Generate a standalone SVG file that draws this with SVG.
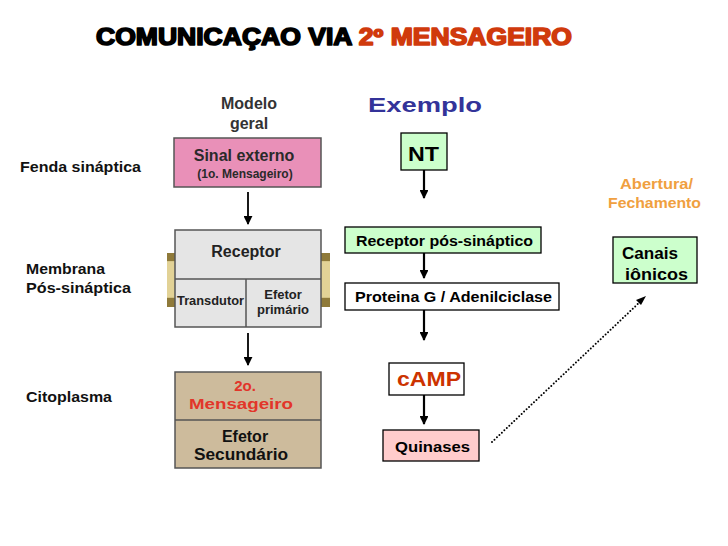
<svg xmlns="http://www.w3.org/2000/svg" width="728" height="546" viewBox="0 0 728 546">
<defs>
<style>
text{font-family:"Liberation Sans",Arial,sans-serif;font-weight:bold;}
.lbl{font-size:15px;fill:#111;}
.pg{stroke:#555;stroke-width:1.5;}
.bx{stroke:#000;stroke-width:1.3;}
.ln{stroke:#000;fill:none;}
</style>
<marker id="ah" viewBox="0 0 10 10" refX="9" refY="5" markerWidth="4" markerHeight="4" orient="auto" markerUnits="strokeWidth">
<path d="M0,0 L10,5 L0,10 z" fill="#000"/>
</marker>
<marker id="ah2" viewBox="0 0 10 10" refX="9" refY="5" markerWidth="5" markerHeight="5" orient="auto" markerUnits="strokeWidth">
<path d="M0,0 L10,5 L0,10 z" fill="#000"/>
</marker>
<linearGradient id="tan" x1="0" y1="0" x2="0" y2="1">
<stop offset="0" stop-color="#8f7a3a"/>
<stop offset="0.14" stop-color="#8f7a3a"/>
<stop offset="0.16" stop-color="#e2d296"/>
<stop offset="0.82" stop-color="#e2d296"/>
<stop offset="0.84" stop-color="#8f7a3a"/>
<stop offset="1" stop-color="#8f7a3a"/>
</linearGradient>
</defs>
<rect width="728" height="546" fill="#fff"/>

<g id="title">
<text x="96" y="45" font-size="23" textLength="476" lengthAdjust="spacingAndGlyphs" stroke-width="1.6" stroke-linejoin="round" style="font-weight:900"><tspan fill="#000" stroke="#000">COMUNICAÇAO VIA </tspan><tspan fill="#d03a0c" stroke="#d03a0c">2º MENSAGEIRO</tspan></text>
</g>

<g id="labels-left">
<text class="lbl" x="20" y="172" textLength="121" lengthAdjust="spacingAndGlyphs">Fenda sináptica</text>
<text class="lbl" x="26" y="274" textLength="79" lengthAdjust="spacingAndGlyphs">Membrana</text>
<text class="lbl" x="26" y="293" textLength="105" lengthAdjust="spacingAndGlyphs">Pós-sináptica</text>
<text class="lbl" x="26" y="402" textLength="86" lengthAdjust="spacingAndGlyphs">Citoplasma</text>
</g>

<g id="modelo-geral">
<text x="249" y="109" font-size="16" fill="#333" text-anchor="middle">Modelo</text>
<text x="249" y="129" font-size="16" fill="#333" text-anchor="middle">geral</text>
</g>

<g id="sinal-externo">
<rect class="pg" x="174" y="138" width="147" height="49" fill="#e990b8"/>
<text x="244" y="161" font-size="16" fill="#2a2a2a" text-anchor="middle">Sinal externo</text>
<text x="245" y="178" font-size="12" fill="#2a2a2a" text-anchor="middle">(1o. Mensageiro)</text>
</g>

<g id="receptor-membrana">
<rect x="167" y="253" width="8" height="54" fill="url(#tan)"/>
<rect x="321" y="253" width="9" height="54" fill="url(#tan)"/>
<rect class="pg" x="175" y="230" width="146" height="97" fill="#e5e5e5"/>
<line class="pg" x1="175" y1="279" x2="321" y2="279"/>
<line class="pg" x1="246" y1="279" x2="246" y2="327"/>
<text x="246" y="257" font-size="16" fill="#222" text-anchor="middle">Receptor</text>
<text x="177" y="305" font-size="13" fill="#222" textLength="67" lengthAdjust="spacingAndGlyphs">Transdutor</text>
<text x="283" y="299" font-size="13" fill="#222" text-anchor="middle">Efetor</text>
<text x="283" y="314" font-size="13" fill="#222" text-anchor="middle">primário</text>
</g>

<g id="segundo-mensageiro">
<rect class="pg" x="175" y="372" width="146" height="96" fill="#cdbb9c"/>
<line class="pg" x1="175" y1="420" x2="321" y2="420"/>
<text x="245" y="391" font-size="15" fill="#e2352a" text-anchor="middle">2o.</text>
<text x="189" y="409" font-size="15" fill="#e2352a" textLength="104" lengthAdjust="spacingAndGlyphs">Mensageiro</text>
<text x="245" y="442" font-size="16" fill="#111" text-anchor="middle">Efetor</text>
<text x="194" y="460" font-size="16" fill="#111" textLength="94" lengthAdjust="spacingAndGlyphs">Secundário</text>
</g>

<g id="exemplo">
<text x="368" y="112" font-size="21" fill="#333399" textLength="114" lengthAdjust="spacingAndGlyphs">Exemplo</text>
</g>

<g id="nt">
<rect class="bx" x="401" y="133" width="46" height="37" fill="#ccffcc"/>
<text x="408" y="161" font-size="21" fill="#000" textLength="31" lengthAdjust="spacingAndGlyphs">NT</text>
</g>

<g id="receptor-pos">
<rect class="bx" x="345" y="227" width="196" height="26" fill="#ccffcc"/>
<text x="356" y="246" font-size="14" fill="#000" textLength="177" lengthAdjust="spacingAndGlyphs">Receptor pós-sináptico</text>
</g>

<g id="proteina-g">
<rect class="bx" x="345" y="283" width="214" height="27" fill="#fff"/>
<text x="355" y="302" font-size="14" fill="#000" textLength="197" lengthAdjust="spacingAndGlyphs">Proteina G / Adenilciclase</text>
</g>

<g id="camp">
<rect class="bx" x="389" y="363" width="75" height="32" fill="#fff"/>
<text x="397" y="386" font-size="20" fill="#cc3300" textLength="64" lengthAdjust="spacingAndGlyphs">cAMP</text>
</g>

<g id="quinases">
<rect class="bx" x="383" y="430" width="96" height="31" fill="#ffcccc"/>
<text x="395" y="452" font-size="15" fill="#000" textLength="75" lengthAdjust="spacingAndGlyphs">Quinases</text>
</g>

<g id="abertura">
<text x="620" y="189" font-size="14" fill="#f0a040" textLength="73" lengthAdjust="spacingAndGlyphs">Abertura/</text>
<text x="608" y="208" font-size="14" fill="#f0a040" textLength="93" lengthAdjust="spacingAndGlyphs">Fechamento</text>
</g>

<g id="canais">
<rect class="bx" x="613" y="237" width="84" height="46" fill="#ccffcc"/>
<text x="622" y="259" font-size="16" fill="#000" textLength="56" lengthAdjust="spacingAndGlyphs">Canais</text>
<text x="625" y="280" font-size="16" fill="#000" textLength="63" lengthAdjust="spacingAndGlyphs">iônicos</text>
</g>

<g id="connectors">
<line class="ln" x1="248" y1="192" x2="248" y2="224" stroke-width="1.8" marker-end="url(#ah2)"/>
<line class="ln" x1="248" y1="333" x2="248" y2="365" stroke-width="1.8" marker-end="url(#ah2)"/>
<line class="ln" x1="424" y1="170" x2="424" y2="198" stroke-width="2.2" marker-end="url(#ah)"/>
<line class="ln" x1="424" y1="253" x2="424" y2="278" stroke-width="2.2" marker-end="url(#ah)"/>
<line class="ln" x1="424" y1="310" x2="424" y2="340" stroke-width="2.2" marker-end="url(#ah)"/>
<line class="ln" x1="424" y1="395" x2="424" y2="424" stroke-width="2.2" marker-end="url(#ah)"/>
<line class="ln" x1="492" y1="442" x2="642" y2="300" stroke-width="2" stroke-dasharray="0 3.4" stroke-linecap="round"/>
<path d="M646,296 L636,300 L641,305 z" fill="#000"/>
</g>
</svg>
